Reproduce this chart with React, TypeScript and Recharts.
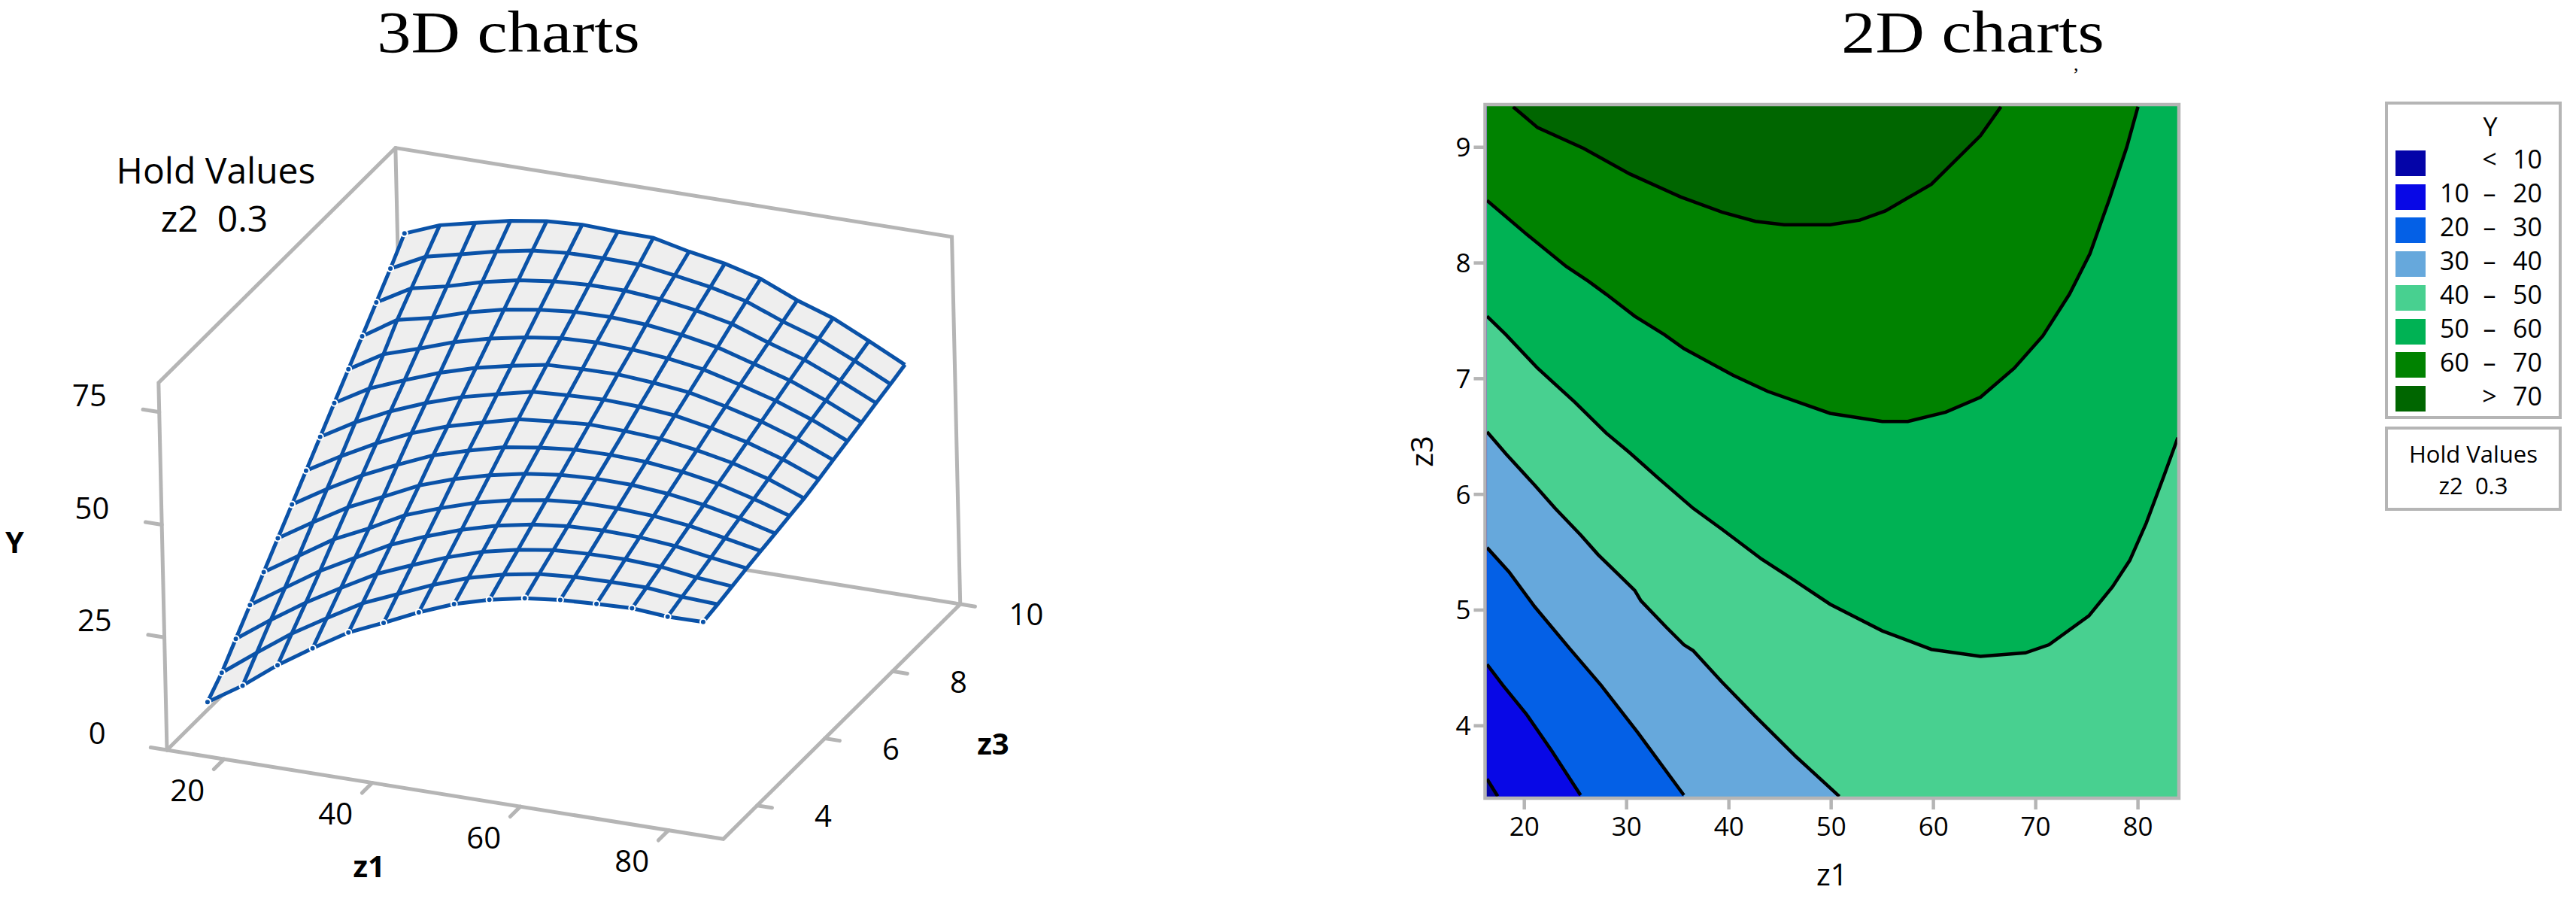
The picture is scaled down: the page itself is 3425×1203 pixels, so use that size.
import { Area, ComposedChart, Line, ReferenceDot, XAxis, YAxis } from 'recharts'

const SANS = '"Open Sans", "Noto Sans", sans-serif'
const SERIF = '"Liberation Serif", serif'
const GREY = '#b5b5b5'
const MESH = '#0a52a8'

// ---- 3D surface ----
const z1Grid = [16.3, 21.1, 25.9, 30.7, 35.6, 40.4, 45.2, 50, 54.8, 59.6, 64.4, 69.3, 74.1, 78.9, 83.7]
const z3Grid = [3.35, 3.78, 4.21, 4.64, 5.06, 5.49, 5.92, 6.35, 6.78, 7.21, 7.64, 8.06, 8.49, 8.92, 9.35]
// one row per z1, one value per z3
const surfaceY = [
  [9.1, 12.4, 16.7, 21, 25.2, 29.5, 33.8, 38.1, 42.4, 46.7, 51, 55.2, 59.5, 63.8, 68.4],
  [14, 18.1, 22.2, 26.1, 30.1, 34.3, 38.5, 42.6, 46.9, 51.2, 55.6, 60.1, 63.9, 67.7, 71.5],
  [19.8, 23.6, 27.3, 31.1, 35, 38.9, 42.8, 46.7, 50.6, 54.3, 58.1, 61.8, 65.6, 69.5, 73.3],
  [24.8, 28.3, 31.8, 35.3, 38.7, 42.5, 46.4, 50.2, 53.7, 57.2, 60.8, 64.3, 67.8, 71.4, 75],
  [29.6, 32.9, 36.2, 39.5, 42.9, 46.3, 49.8, 53, 56.3, 59.6, 62.9, 66.2, 69.5, 72.9, 76.2],
  [33, 36.2, 39.4, 42.6, 45.7, 49, 52.1, 55.1, 58.2, 61.3, 64.4, 67.4, 70.5, 73.6, 76.7],
  [36.6, 39.5, 42.4, 45.3, 48.2, 51.1, 54.1, 57.1, 60, 62.8, 65.5, 68.2, 71, 73.7, 76.4],
  [39.7, 42.3, 44.9, 47.5, 50, 52.7, 55.3, 57.9, 60.5, 63.1, 65.8, 68.3, 71, 73.6, 76.3],
  [41.9, 44.3, 46.6, 49, 51.3, 53.7, 56.1, 58.5, 60.8, 63.2, 65.5, 67.9, 70.3, 72.4, 74.5],
  [43.5, 45.7, 47.8, 49.9, 52, 54.1, 56.2, 58.3, 60.5, 62.6, 64.8, 66.9, 69.1, 71.1, 73.1],
  [44.4, 46.3, 48.2, 50.2, 52, 54, 55.9, 57.8, 59.8, 61.7, 63.6, 65.4, 67.4, 69.2, 71],
  [44.8, 46.5, 48.3, 50, 51.6, 53.3, 55, 56.6, 58.3, 59.9, 61.5, 63, 64.5, 66, 67.5],
  [45.1, 46.5, 47.9, 49.3, 50.7, 52.1, 53.6, 55, 56.4, 57.8, 59.2, 60.6, 62, 63.4, 64.8],
  [44.5, 45.7, 46.8, 48, 49.2, 50.4, 51.5, 52.7, 53.9, 55.1, 56.3, 57.4, 58.6, 59.8, 61],
  [44.6, 45.3, 46.1, 46.9, 47.6, 48.3, 49, 49.7, 50.7, 51.8, 52.8, 53.8, 54.9, 55.9, 57],
]
const z1Ticks3d = [20, 40, 60, 80]
const z3Ticks3d = [4, 6, 8, 10]
const yTicks3d = [0, 25, 50, 75]

// ---- 2D contours, [z1, z3] ----
const contour10 = [[16.35, 3.54], [17.4, 3.39]]
const contour20 = [[16.35, 4.53], [17.9, 4.35], [20.2, 4.1], [22.7, 3.78], [25.5, 3.4]]
const contour30 = [[16.35, 5.54], [18.5, 5.33], [21, 5.03], [24.4, 4.67], [27.5, 4.35], [31.1, 3.94], [35.6, 3.4]]
const contour40 = [[16.35, 6.54], [18.2, 6.35], [21, 6.08], [23, 5.88], [25.5, 5.65], [27.2, 5.48], [30.8, 5.17], [31.4, 5.08], [33.9, 4.85], [35.6, 4.7], [36.5, 4.65], [39.3, 4.38], [42.6, 4.08], [46.6, 3.73], [50.8, 3.39]]
const contour50 = [[16.35, 7.54], [18.2, 7.38], [21.3, 7.09], [24.9, 6.8], [28, 6.53], [30.3, 6.36], [33.1, 6.14], [36.5, 5.88], [39.3, 5.7], [43.2, 5.44], [46, 5.28], [49.9, 5.05], [55, 4.82], [59.8, 4.66], [64.6, 4.6], [69, 4.63], [71.3, 4.7], [75.2, 4.95], [77.5, 5.2], [79.2, 5.43], [80.8, 5.75], [82.5, 6.15], [83.9, 6.49]]
const contour60 = [[16.35, 8.54], [20.2, 8.25], [24.1, 7.97], [26.3, 7.84], [28, 7.73], [30.8, 7.54], [33.7, 7.38], [35.6, 7.26], [40.4, 7.03], [43.8, 6.89], [49.9, 6.7], [55, 6.63], [57.5, 6.63], [61.2, 6.71], [64.6, 6.84], [67.9, 7.09], [70.7, 7.37], [73.3, 7.73], [75.3, 8.08], [77.2, 8.55], [78.9, 9], [80, 9.35]]
const contour70 = [[18.9, 9.35], [21.3, 9.17], [25.8, 8.99], [30.3, 8.77], [35.3, 8.57], [39.3, 8.44], [42.6, 8.36], [45.4, 8.33], [49.9, 8.33], [52.8, 8.37], [55.3, 8.45], [59.8, 8.68], [64.6, 9.1], [66.6, 9.35]]
const contours = [contour10, contour20, contour30, contour40, contour50, contour60, contour70]
const z1Ticks2d = [20, 30, 40, 50, 60, 70, 80]
const z3Ticks2d = [4, 5, 6, 7, 8, 9]

// ---- legend ----
const bandColors = ['#0404a8', '#0808e6', '#0460e6', '#66a8dc', '#48d090', '#00b254', '#008200', '#006600']
const bandLow = ['', '10', '20', '30', '40', '50', '60', '']
const bandHigh = ['10', '20', '30', '40', '50', '60', '70', '70']
const bandSign = ['<', '–', '–', '–', '–', '–', '–', '>']

// ---- 3D box: orthographic view, the chart's plane is the page ----
const Z1_MIN = 12.3
const Z1_MAX = 87.4
const Z3_MIN = 3
const Z3_MAX = 10
const Y_TOP = 81.5

function project(z1: number, z3: number, y: number) {
  return {
    x: 222 + (z1 - Z1_MIN) * 9.85 + (z3 - Z3_MIN) * 45 - y * 0.137,
    y: 997 + (z1 - Z1_MIN) * 1.575 - (z3 - Z3_MIN) * 44.6 - y * 5.99,
  }
}

const meshAlongZ3 = z1Grid.map((z1, i) => z3Grid.map((z3, j) => project(z1, z3, surfaceY[i][j])))
const meshAlongZ1 = z3Grid.map((z3, j) => z1Grid.map((z1, i) => project(z1, z3, surfaceY[i][j])))

type P = { x: number; y: number }

function edgeAt(edge: P[], x: number) {
  for (let k = 1; k < edge.length; k++) {
    if (x <= edge[k].x) {
      const t = (x - edge[k - 1].x) / (edge[k].x - edge[k - 1].x)
      return edge[k - 1].y + t * (edge[k].y - edge[k - 1].y)
    }
  }
  return edge[edge.length - 1].y
}

// the grey fill under the wires: everything between outer edges of the mesh
const upperEdge = [...meshAlongZ3[0], ...meshAlongZ1[14].slice(1)]
const lowerEdge = [...meshAlongZ1[0], ...meshAlongZ3[14].slice(1)]
const meshFill = [...upperEdge, ...lowerEdge]
  .map((p) => p.x)
  .sort((a, b) => a - b)
  .map((x) => ({ x, band: [edgeAt(lowerEdge, x), edgeAt(upperEdge, x)] }))

const boxEdges: P[][] = [
  [project(Z1_MIN, Z3_MIN, 0), project(Z1_MAX, Z3_MIN, 0), project(Z1_MAX, Z3_MAX, 0), project(Z1_MIN, Z3_MAX, 0), project(Z1_MIN, Z3_MIN, 0)],
  [project(Z1_MIN, Z3_MIN, 0), project(Z1_MIN, Z3_MIN, Y_TOP), project(Z1_MIN, Z3_MAX, Y_TOP), project(Z1_MAX, Z3_MAX, Y_TOP), project(Z1_MAX, Z3_MAX, 0)],
  [project(Z1_MIN, Z3_MAX, 0), project(Z1_MIN, Z3_MAX, Y_TOP)],
  ...z1Ticks3d.map((t) => [project(t, Z3_MIN, 0), project(t, Z3_MIN - 0.3, 0)]),
  ...z3Ticks3d.map((t) => [project(Z1_MAX, t, 0), project(Z1_MAX + 2, t, 0)]),
  ...yTicks3d.map((t) => [project(Z1_MIN, Z3_MIN, t), project(Z1_MIN - 2.2, Z3_MIN, t)]),
]

const labels3d = [
  ...z1Ticks3d.map((t) => ({ text: String(t), at: project(t - 0.6, 2.05, 0), bold: false })),
  ...z3Ticks3d.map((t) => ({ text: String(t), at: project(96.3, t, 0), bold: false })),
  ...yTicks3d.map((t) => ({ text: String(t), at: project(2.9, Z3_MIN, t + 1.2), bold: false })),
  { text: 'z1', at: project(49.4, 0.85, 0), bold: true },
  { text: 'z3', at: project(107.6, 6.55, 0), bold: true },
  { text: 'Y', at: project(-7.7, Z3_MIN, 40.8), bold: true },
]

// ---- 2D panel ----
const Z1_LO = 16.16
const Z1_HI = 84
const Z3_LO = 3.374
const Z3_HI = 9.369

function contourFill(points: number[][]) {
  const rows = points.map(([z1, z3]) => ({ z1, band: [z3, Z3_HI] }))
  const last = points[points.length - 1]
  // contours that run out through the floor leave the rest of the width above them
  if (last[1] < 3.6) rows.push({ z1: last[0] + 0.001, band: [Z3_LO, Z3_HI] }, { z1: Z1_HI, band: [Z3_LO, Z3_HI] })
  return rows
}

function Box3D() {
  return (
    <ComposedChart width={1450} height={1203} margin={{ top: 0, right: 0, bottom: 0, left: 0 }}>
      <XAxis dataKey="x" type="number" domain={[0, 1450]} hide />
      <YAxis type="number" domain={[0, 1203]} reversed hide />
      {boxEdges.map((edge, i) => (
        <Line key={`box-${i}`} data={edge} dataKey="y" stroke={GREY} strokeWidth={5} strokeLinecap="round" dot={false} type="linear" isAnimationActive={false} />
      ))}
      {labels3d.map((l) => (
        <ReferenceDot
          key={l.text}
          x={l.at.x}
          y={l.at.y}
          r={0}
          stroke="none"
          fill="none"
          label={{ value: l.text, position: 'center', fill: '#000', fontSize: 40, fontFamily: SANS, fontWeight: l.bold ? 700 : 400 }}
        />
      ))}
    </ComposedChart>
  )
}

// second layer, so the surface hides the box lines behind it
function Mesh3D() {
  return (
    <ComposedChart width={1450} height={1203} margin={{ top: 0, right: 0, bottom: 0, left: 0 }}>
      <XAxis dataKey="x" type="number" domain={[0, 1450]} hide />
      <YAxis type="number" domain={[0, 1203]} reversed hide />
      <Area data={meshFill} dataKey="band" fill="#eeeeee" fillOpacity={1} stroke="none" type="linear" isAnimationActive={false} />
      {meshAlongZ1.map((row, i) => (
        <Line key={`row-${i}`} data={row} dataKey="y" stroke={MESH} strokeWidth={5} dot={false} type="linear" isAnimationActive={false} />
      ))}
      {meshAlongZ3.map((col, i) => (
        <Line key={`col-${i}`} data={col} dataKey="y" stroke={MESH} strokeWidth={5} dot={false} type="linear" isAnimationActive={false} />
      ))}
    </ComposedChart>
  )
}

function Contour2D() {
  const frame = [
    { z1: Z1_LO, z3: Z3_LO },
    { z1: Z1_HI, z3: Z3_LO },
    { z1: Z1_HI, z3: Z3_HI },
    { z1: Z1_LO, z3: Z3_HI },
    { z1: Z1_LO, z3: Z3_LO },
  ]
  return (
    <ComposedChart width={1200} height={1203} margin={{ top: 139, right: 103, bottom: 22, left: 34.5 }}>
      <XAxis
        dataKey="z1"
        type="number"
        domain={[Z1_LO, Z1_HI]}
        ticks={z1Ticks2d}
        height={120}
        tickSize={15}
        tickMargin={10}
        axisLine={false}
        tickLine={{ stroke: GREY, strokeWidth: 4.5 }}
        tick={{ fill: '#000', fontSize: 35, fontFamily: SANS, fontWeight: 500 }}
        label={{ value: 'z1', position: 'insideBottom', offset: 4, fill: '#000', fontSize: 40, fontFamily: SANS, fontWeight: 500 }}
      />
      <YAxis
        type="number"
        domain={[Z3_LO, Z3_HI]}
        ticks={z3Ticks2d}
        width={140}
        tickSize={15}
        tickMargin={4}
        axisLine={false}
        tickLine={{ stroke: GREY, strokeWidth: 4.5 }}
        tick={{ fill: '#000', fontSize: 35, fontFamily: SANS, fontWeight: 500 }}
        label={{ value: 'z3', angle: -90, position: 'insideLeft', offset: 56, textAnchor: 'middle', fill: '#000', fontSize: 40, fontFamily: SANS, fontWeight: 500 }}
      />
      <Area
        data={[
          { z1: Z1_LO, band: [Z3_LO, Z3_HI] },
          { z1: Z1_HI, band: [Z3_LO, Z3_HI] },
        ]}
        dataKey="band"
        fill={bandColors[0]}
        fillOpacity={1}
        stroke="none"
        type="linear"
        isAnimationActive={false}
      />
      {contours.map((points, i) => (
        <Area key={`fill-${i}`} data={contourFill(points)} dataKey="band" fill={bandColors[i + 1]} fillOpacity={1} stroke="none" type="linear" isAnimationActive={false} />
      ))}
      {contours.map((points, i) => (
        <Line key={`line-${i}`} data={points.map(([z1, z3]) => ({ z1, z3 }))} dataKey="z3" stroke="#000" strokeWidth={4.5} dot={false} type="linear" isAnimationActive={false} />
      ))}
      <Line data={frame} dataKey="z3" stroke={GREY} strokeWidth={4.5} strokeLinecap="square" dot={false} type="linear" isAnimationActive={false} />
    </ComposedChart>
  )
}

function Legend2D() {
  const box = { position: 'absolute', boxSizing: 'border-box', border: `4px solid ${GREY}`, left: 3171, width: 235 } as const
  const text = { position: 'absolute', fontFamily: SANS, fontSize: 34, fontWeight: 500, lineHeight: '34px', color: '#000' } as const
  return (
    <>
      <div style={{ ...box, top: 135, height: 422 }} />
      <div style={{ ...text, left: 3291, width: 40, top: 151, textAlign: 'center' }}>Y</div>
      {bandColors.map((c, i) => (
        <div key={c}>
          <div style={{ position: 'absolute', left: 3185, width: 40, top: 200 + i * 44.7, height: 34, background: c }} />
          <div style={{ ...text, left: 3230, width: 53, top: 194 + i * 45, textAlign: 'right' }}>{bandLow[i]}</div>
          <div style={{ ...text, left: 3290, width: 40, top: 194 + i * 45, textAlign: 'center' }}>{bandSign[i]}</div>
          <div style={{ ...text, left: 3320, width: 60, top: 194 + i * 45, textAlign: 'right' }}>{bandHigh[i]}</div>
        </div>
      ))}
      <div style={{ ...box, top: 567, height: 112 }} />
      <div style={{ ...text, left: 3171, width: 235, top: 586, textAlign: 'center', fontSize: 31 }}>Hold Values</div>
      <div style={{ ...text, left: 3171, width: 235, top: 628, textAlign: 'center', fontSize: 31, whiteSpace: 'pre' }}>z2  0.3</div>
    </>
  )
}

function centred(x: number, y: number, size: number, family: string) {
  return {
    position: 'absolute',
    left: x,
    top: y,
    transform: 'translate(-50%, -50%)',
    fontFamily: family,
    fontSize: size,
    lineHeight: 1,
    color: '#000',
    whiteSpace: 'pre',
  } as const
}

function Title({ x, children }: { x: number; children: string }) {
  return (
    <div
      style={{
        position: 'absolute',
        left: x,
        top: 4.4,
        transform: 'translateX(-50%) scaleX(1.16)',
        fontFamily: SERIF,
        fontSize: 78,
        lineHeight: '78px',
        color: '#000',
        whiteSpace: 'pre',
      }}
    >
      {children}
    </div>
  )
}

export default function App() {
  return (
    <div style={{ position: 'absolute', left: 0, top: 0, width: 3425, height: 1203, background: '#fff', overflow: 'hidden' }}>
      <div style={{ position: 'absolute', left: 0, top: 0 }}>
        <Box3D />
      </div>
      <div style={{ position: 'absolute', left: 0, top: 0 }}>
        <Mesh3D />
      </div>
      <div style={{ position: 'absolute', left: 1800, top: 0 }}>
        <Contour2D />
      </div>
      <Legend2D />
      <Title x={676}>3D charts</Title>
      <Title x={2623}>2D charts</Title>
      <div style={centred(2760, 100, 26, SERIF)}>ʼ</div>
      <div style={centred(287, 226, 48, SANS)}>Hold Values</div>
      <div style={centred(285, 290, 48, SANS)}>z2  0.3</div>
    </div>
  )
}
